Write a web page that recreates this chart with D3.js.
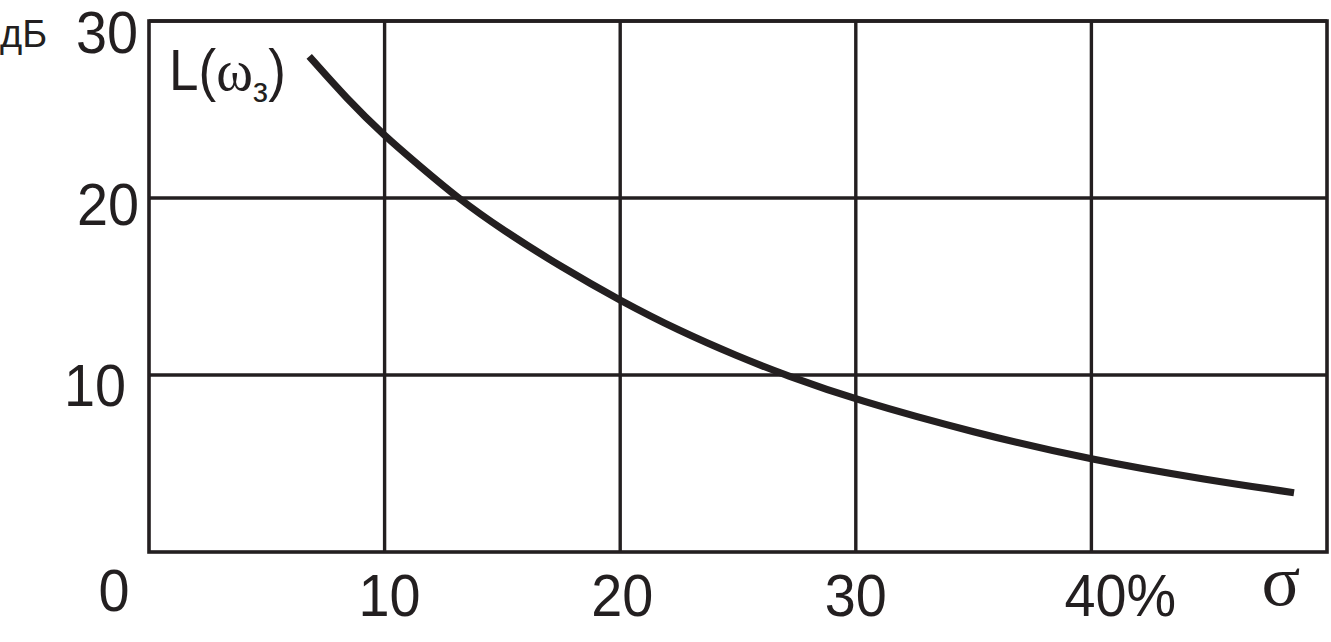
<!DOCTYPE html>
<html>
<head>
<meta charset="utf-8">
<script src="https://cdn.jsdelivr.net/npm/d3@7"></script>
<style>
  html, body { margin: 0; padding: 0; background: #ffffff; }
  svg { display: block; }
  text { fill: #231f20; font-family: "Liberation Sans", Arial, sans-serif; }
</style>
</head>
<body>
<svg id="chart" width="1331" height="642"></svg>
<script>
// ---- data ----
const sigma = [6.8, 8.4, 10, 11.5, 13.1, 15, 17.5, 20, 22.5, 25, 27, 30, 35, 40, 45, 48.6];
const Lvals = [28.0, 25.6, 23.5, 21.8, 20.0, 18.2, 16.1, 14.2, 12.5, 11.05, 10.0, 8.6, 6.75, 5.2, 4.05, 3.35];
const xTicks = [10, 20, 30, 40];
const xTickLabels = ["10", "20", "30", "40%"];
const yTicks = [10, 20, 30];
const yTickLabels = ["10", "20", "30"];
const originLabel = "0";
const xAxisName = "σ";
const yUnit = "дБ";

// ---- layout ----
const svg = d3.select("#chart");
const ink = "#231f20";
const x = d3.scaleLinear().domain([0, 50]).range([149, 1327]);
const y = d3.scaleLinear().domain([0, 30]).range([552, 21]);
const sx = 0.93; // slightly narrow lettering

// grid lines (vertical)
svg.append("g").selectAll("line").data(xTicks).join("line")
  .attr("x1", d => x(d)).attr("x2", d => x(d))
  .attr("y1", y(30)).attr("y2", y(0))
  .attr("stroke", ink).attr("stroke-width", 3.4);

// grid lines (horizontal)
svg.append("g").selectAll("line").data(yTicks).join("line")
  .attr("x1", x(0)).attr("x2", x(50))
  .attr("y1", d => y(d)).attr("y2", d => y(d))
  .attr("stroke", ink).attr("stroke-width", 3.4);

// frame
svg.append("rect")
  .attr("x", x(0)).attr("y", y(30))
  .attr("width", x(50) - x(0)).attr("height", y(0) - y(30))
  .attr("fill", "none").attr("stroke", ink).attr("stroke-width", 3.6);

// curve
const line = d3.line()
  .x((d, i) => x(sigma[i]))
  .y(d => y(d))
  .curve(d3.curveBasis);
svg.append("path")
  .datum(Lvals)
  .attr("d", line)
  .attr("fill", "none")
  .attr("stroke", ink)
  .attr("stroke-width", 7.2);

// y tick labels
const yOff = {30: 32, 20: 27, 10: 31};
const yRight = {30: 138, 20: 139, 10: 126};
svg.append("g").selectAll("text").data(yTicks).join("text")
  .attr("transform", d => `translate(${yRight[d]},${y(d) + yOff[d]}) scale(${sx},1)`)
  .attr("text-anchor", "end")
  .attr("font-size", 60)
  .text((d, i) => yTickLabels[i]);

// x tick labels
svg.append("g").selectAll("text").data(xTicks).join("text")
  .attr("transform", d => `translate(${x(d) - (d === 40 ? 27 : 0) + (d === 10 ? 5 : 0) + (d === 20 ? 2 : 0)},616) scale(${sx},1)`)
  .attr("text-anchor", d => d === 40 ? "start" : "middle")
  .attr("font-size", 60)
  .text((d, i) => xTickLabels[i]);

// origin
svg.append("text")
  .attr("transform", `translate(114,611) scale(${sx},1)`)
  .attr("text-anchor", "middle")
  .attr("font-size", 60)
  .text(originLabel);

// sigma axis name
svg.append("text")
  .attr("x", 1281).attr("y", 605)
  .attr("text-anchor", "middle")
  .attr("font-size", 72)
  .style("font-family", "'Liberation Serif', 'DejaVu Serif', serif")
  .text(xAxisName);

// unit
svg.append("text")
  .attr("x", 0).attr("y", 47)
  .attr("font-size", 38)
  .text(yUnit);

// curve label L(ω з)
const lab = svg.append("text")
  .attr("transform", `translate(169,90) scale(${sx},1)`)
  .attr("font-size", 57);
lab.append("tspan").text("L(");
lab.append("tspan")
  .style("font-family", "'Liberation Serif', 'DejaVu Serif', serif")
  .attr("font-size", 60)
  .text("ω");
lab.append("tspan").attr("font-size", 36).attr("dy", 12).text("з");
lab.append("tspan").attr("dy", -12).text(")");
</script>
</body>
</html>
